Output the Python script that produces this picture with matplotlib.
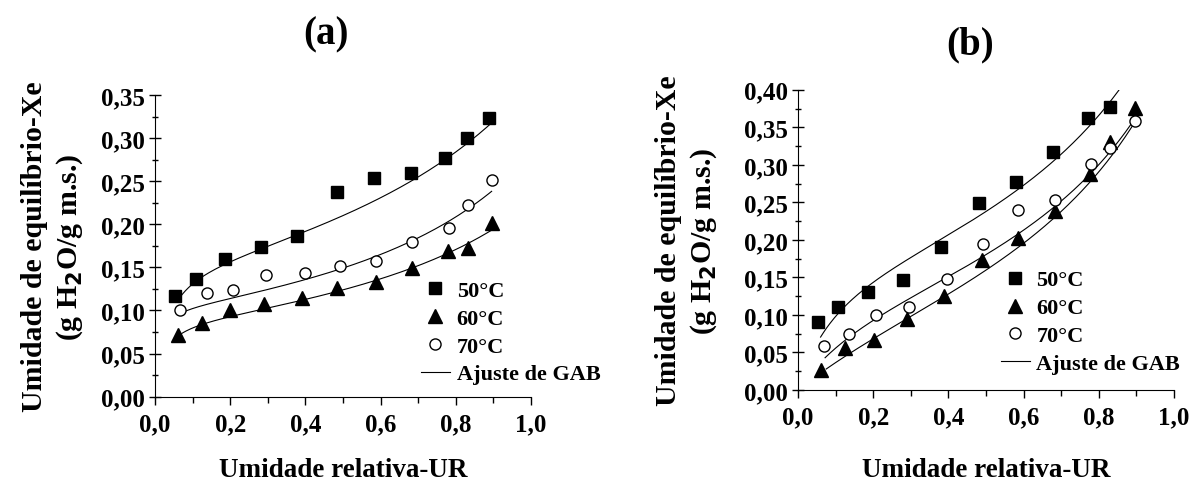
import numpy as np
import matplotlib.pyplot as plt
from matplotlib.ticker import MultipleLocator, FuncFormatter
from matplotlib.lines import Line2D

plt.rcParams['font.family'] = 'Liberation Serif'
plt.rcParams['font.weight'] = 'bold'

# Isotermas de dessorção - pontos experimentais (a)
ur_a_50 = [0.054, 0.109, 0.187, 0.281, 0.378, 0.483, 0.582, 0.681, 0.770, 0.830, 0.889]
xe_a_50 = [0.117, 0.136, 0.160, 0.174, 0.186, 0.238, 0.254, 0.260, 0.277, 0.300, 0.323]
ur_a_60 = [0.061, 0.126, 0.199, 0.289, 0.390, 0.485, 0.587, 0.682, 0.779, 0.832, 0.895]
xe_a_60 = [0.071, 0.086, 0.100, 0.108, 0.115, 0.126, 0.133, 0.149, 0.169, 0.173, 0.201]
ur_a_70 = [0.066, 0.138, 0.206, 0.294, 0.398, 0.492, 0.587, 0.682, 0.783, 0.832, 0.895]
xe_a_70 = [0.100, 0.120, 0.124, 0.141, 0.143, 0.152, 0.158, 0.179, 0.196, 0.222, 0.251]

# Pontos experimentais (b)
ur_b_50 = [0.053, 0.107, 0.187, 0.279, 0.379, 0.481, 0.581, 0.679, 0.770, 0.830]
xe_b_50 = [0.091, 0.110, 0.131, 0.146, 0.190, 0.249, 0.277, 0.317, 0.363, 0.377]
ur_b_60 = [0.062, 0.125, 0.202, 0.289, 0.389, 0.489, 0.584, 0.683, 0.777, 0.830, 0.895]
xe_b_60 = [0.026, 0.056, 0.067, 0.095, 0.125, 0.173, 0.203, 0.239, 0.288, 0.330, 0.376]
ur_b_70 = [0.068, 0.135, 0.207, 0.294, 0.396, 0.493, 0.586, 0.683, 0.779, 0.830, 0.895]
xe_b_70 = [0.059, 0.075, 0.100, 0.111, 0.148, 0.194, 0.240, 0.253, 0.301, 0.323, 0.359]

# Parâmetros do modelo de GAB (50, 60, 70 °C)
xm_a = [0.155, 0.0884, 0.1028]
c_a = [63.0, 85.0, 200.0]
k_a = [0.580, 0.611, 0.637]
ur_ini_a = [0.064, 0.066, 0.066]
ur_fim_a = [0.895, 0.895, 0.895]

xm_b = [0.180, 0.1578, 0.1487]
c_b = [14.39, 3.687, 7.213]
k_b = [0.670, 0.693, 0.693]
ur_ini_b = [0.060, 0.075, 0.072]
ur_fim_b = [0.86, 0.895, 0.895]

rotulos = ['50°C', '60°C', '70°C']


def gab(aw, xm, c, k):
    return xm * c * k * aw / ((1 - k * aw) * (1 - k * aw + c * k * aw))


def virgula(v, pos):
    return f'{v:.2f}'.replace('.', ',')


def virgula1(v, pos):
    return f'{v:.1f}'.replace('.', ',')


estilos = [
    dict(marker='s', color='black', markersize=8, linestyle='none'),
    dict(marker='^', color='black', markersize=9.5, linestyle='none'),
    dict(marker='o', markerfacecolor='white', markeredgecolor='black',
         markeredgewidth=1, markersize=8, linestyle='none'),
]

fig = plt.figure(figsize=(11.9, 4.89), dpi=100)
ax_a = fig.add_axes([0.1303, 0.1867, 0.316, 0.617])
ax_b = fig.add_axes([0.6706, 0.2004, 0.316, 0.614])

paineis = [
    (ax_a, [(ur_a_50, xe_a_50), (ur_a_60, xe_a_60), (ur_a_70, xe_a_70)],
     xm_a, c_a, k_a, ur_ini_a, ur_fim_a, 0.35, -0.186, -0.200),
    (ax_b, [(ur_b_50, xe_b_50), (ur_b_60, xe_b_60), (ur_b_70, xe_b_70)],
     xm_b, c_b, k_b, ur_ini_b, ur_fim_b, 0.40, -0.210, -0.223),
]

for ax, pontos, xm, c, k, ini, fim, ytopo, ylab_x, xlab_y in paineis:
    for i in range(3):
        aw = np.linspace(ini[i], fim[i], 200)
        ax.plot(aw, gab(aw, xm[i], c[i], k[i]), color='black', lw=0.8)
    for i, (ur, xe) in enumerate(pontos):
        ax.plot(ur, xe, **estilos[i], clip_on=False)

    ax.set_xlim(0, 1.0)
    ax.set_ylim(0, ytopo)
    ax.spines['top'].set_visible(False)
    ax.spines['right'].set_visible(False)
    ax.xaxis.set_major_locator(MultipleLocator(0.2))
    ax.xaxis.set_minor_locator(MultipleLocator(0.1))
    ax.yaxis.set_major_locator(MultipleLocator(0.05))
    ax.yaxis.set_minor_locator(MultipleLocator(0.025))
    ax.xaxis.set_major_formatter(FuncFormatter(virgula1))
    ax.yaxis.set_major_formatter(FuncFormatter(virgula))
    ax.tick_params(axis='y', which='major', direction='inout', length=9, width=1, pad=3)
    ax.tick_params(axis='y', which='minor', direction='inout', length=5, width=1)
    ax.tick_params(axis='x', which='major', direction='out', length=6, width=1, pad=5)
    ax.tick_params(axis='x', which='minor', direction='out', length=4, width=1)
    ax.tick_params(labelsize=18)
    for rot in ax.get_xticklabels() + ax.get_yticklabels():
        rot.set_fontweight('bold')

    ax.set_xlabel('Umidade relativa-UR', fontsize=19.5, fontweight='bold')
    ax.xaxis.set_label_coords(0.5, xlab_y)
    ax.set_ylabel('Umidade de equilíbrio-Xe\n(g H$_\\mathbf{2}$O/g m.s.)',
                  fontsize=21.5, fontweight='bold', linespacing=1.3)
    ax.yaxis.set_label_coords(ylab_x, 0.5)

# Legendas
alcas = [Line2D([], [], **estilos[i]) for i in range(3)]
alcas.append(Line2D([], [], color='black', lw=0.8))
nomes = rotulos + ['Ajuste de GAB']
for ax, pos in [(ax_a, (0.3538, 0.425)), (ax_b, (0.841, 0.446))]:
    ax.legend(alcas, nomes, loc='upper left', bbox_to_anchor=pos,
              bbox_transform=fig.transFigure, frameon=False, borderpad=0,
              borderaxespad=0, handlelength=1.3, handletextpad=0.3,
              labelspacing=0.33, prop={'size': 16, 'weight': 'bold'})

fig.text(0.274, 0.928, '(a)', fontsize=28, fontweight='bold', ha='center', va='center')
fig.text(0.815, 0.908, '(b)', fontsize=28, fontweight='bold', ha='center', va='center')

fig.savefig('out.png', dpi=100)
